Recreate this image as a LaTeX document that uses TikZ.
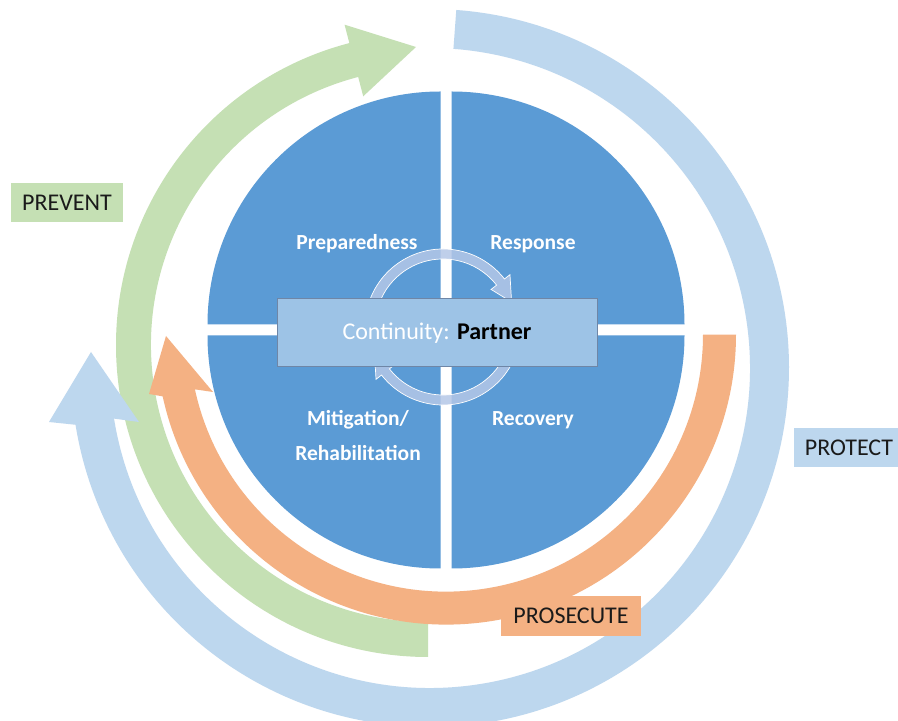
\documentclass[tikz,border=0pt]{standalone}
\usepackage{fontspec}
\setmainfont{Carlito}
\definecolor{quad}{HTML}{5B9BD5}
\definecolor{ringblue}{HTML}{BDD7EE}
\definecolor{ringgreen}{HTML}{C5E0B4}
\definecolor{ringorange}{HTML}{F4B183}
\definecolor{rectfill}{HTML}{9DC3E6}
\definecolor{rectdraw}{HTML}{6F86A6}
\definecolor{smallarr}{HTML}{B4C7E7}
\definecolor{txt}{HTML}{1A1A1A}
\tikzset{
  quadrant/.style={fill=quad},
  smallarrow/.style={fill=smallarr, fill opacity=0.85, draw=white, line width=0.7pt},
  qlabel/.style={anchor=base, inner sep=0pt, text=white, font=\fontsize{21.5}{26}\selectfont\bfseries},
  lbox/.style={inner sep=0pt, text=txt, font=\fontsize{24}{28}\selectfont},
}
\begin{document}
\begin{tikzpicture}[x=1pt,y=1pt]
\useasboundingbox (0,0) rectangle (898,721);
\fill[white] (0,0) rectangle (898,721);

% quadrants
\fill[quadrant] (451.5,396.5) -- ++(0:233pt) arc[start angle=0,end angle=90,radius=233pt] -- cycle;
\fill[quadrant] (440.5,396.5) -- ++(90:233pt) arc[start angle=90,end angle=180,radius=233pt] -- cycle;
\fill[quadrant] (440.5,385.5) -- ++(180:233pt) arc[start angle=180,end angle=270,radius=233pt] -- cycle;
\fill[quadrant] (451.5,385.5) -- ++(270:233pt) arc[start angle=270,end angle=360,radius=233pt] -- cycle;

% small circular arrows
\begin{scope}[shift={(443,394)}]
\path[smallarrow] (165:78pt) arc[start angle=165,end angle=38,radius=78pt]
  -- (38:85pt) -- (20:73pt) -- (38:61pt) -- (38:68pt)
  arc[start angle=38,end angle=165,radius=68pt] -- cycle;
\path[smallarrow] (-15:78pt) arc[start angle=-15,end angle=-142,radius=78pt]
  -- (-142:85pt) -- (-160:73pt) -- (-142:61pt) -- (-142:68pt)
  arc[start angle=-142,end angle=-15,radius=68pt] -- cycle;
\end{scope}

% centre box
\node[draw=rectdraw, fill=rectfill, line width=0.8pt, minimum width=320pt, minimum height=68pt, inner sep=0pt] (cbox) at (437,389) {};
\node[anchor=base, inner sep=0pt, text=white, font=\fontsize{24}{28}\selectfont] (ctext) at (437,381) {Continuity: \textcolor{black}{\bfseries Partner}};

% quadrant labels
\node[qlabel] (prep) at (357,471) {Preparedness};
\node[qlabel] (resp) at (533,471) {Response};
\node[qlabel] (miti) at (358,295) {Mitigation/};
\node[qlabel] (reha) at (358,260) {Rehabilitation};
\node[qlabel] (reco) at (533,295) {Recovery};

% green PREVENT ring
\begin{scope}[shift={(428,376)}]
\fill[ringgreen] (-90:312pt) arc[start angle=-90,end angle=-255.4,radius=312pt]
  -- (104.6:331pt) -- (-12,298) -- (104.6:257pt) -- (104.6:277pt)
  arc[start angle=-255.4,end angle=-90,radius=277pt] -- cycle;
\end{scope}

% orange PROSECUTE ring
\begin{scope}[shift={(446,386.4)}]
\fill[ringorange] (0:290pt) arc[start angle=0,end angle=-167.7,radius=290pt]
  -- (-297,-59.4) -- (-280,-1.4) -- (-233,-57.4) -- (-167.7:257pt)
  arc[start angle=-167.7,end angle=0,radius=257pt] -- cycle;
\end{scope}

% blue PROTECT ring
\begin{scope}[shift={(430,353)}]
\fill[ringblue] (85.8:359pt) arc[start angle=85.8,end angle=-170.9,radius=359pt]
  -- (-381,-54) -- (-339,16) -- (-291,-54) -- (-170.9:320pt)
  arc[start angle=-170.9,end angle=85.8,radius=320pt] -- cycle;
\end{scope}

% label boxes
\node[lbox, fill=ringgreen, minimum width=112pt, minimum height=39pt] (prevent) at (67,518.5) {PREVENT};
\node[lbox, fill=ringblue, minimum width=110pt, minimum height=39pt] (protect) at (849,273.5) {PROTECT};
\node[lbox, fill=ringorange, minimum width=140pt, minimum height=40pt] (prosecute) at (571,105) {PROSECUTE};
\end{tikzpicture}
\end{document}
